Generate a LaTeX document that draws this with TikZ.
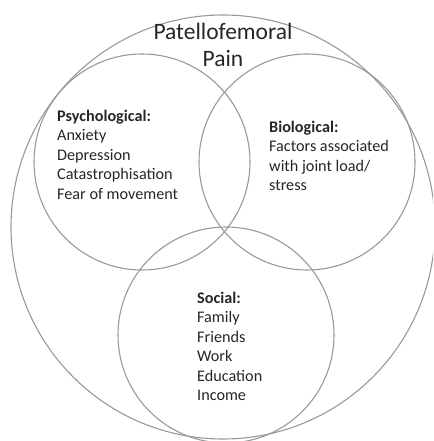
\documentclass[tikz,border=0pt]{standalone}
\usepackage{fontspec}
\setmainfont{Carlito}
\usetikzlibrary{positioning}

\begin{document}
\begin{tikzpicture}[
    x=1pt, y=-1pt,
    ring/.style={draw=gray!80, line width=1.1pt, circle, inner sep=0pt},
    factors/.style={align=left, anchor=north west, inner sep=0pt, text=black!85, font=\fontsize{16.2}{19.4}\selectfont},
    title/.style={align=center, inner sep=0pt, text=black!85, font=\fontsize{23.5}{27}\selectfont}
]
\useasboundingbox (0,0) rectangle (433,441);
\clip (0,0) rectangle (433,441);
\node[ring, minimum size=424pt] (outer) at (223,227) {};
\node[ring, minimum size=216pt] (psych) at (142,162) {};
\node[ring, minimum size=216pt] (bio) at (307,162) {};
\node[ring, minimum size=216pt] (social) at (226,335) {};
\node[title, anchor=north] (pfp) at (223,23) {Patellofemoral\\Pain};
\node[factors] (psychtext) at (57,110) {\textbf{Psychological:}\\Anxiety\\Depression\\Catastrophisation\\Fear of movement};
\node[factors] (biotext) at (269,121) {\textbf{Biological:}\\Factors associated\\with joint load/\\stress};
\node[factors] (socialtext) at (197,292) {\textbf{Social:}\\Family\\Friends\\Work\\Education\\Income};
\end{tikzpicture}
\end{document}
